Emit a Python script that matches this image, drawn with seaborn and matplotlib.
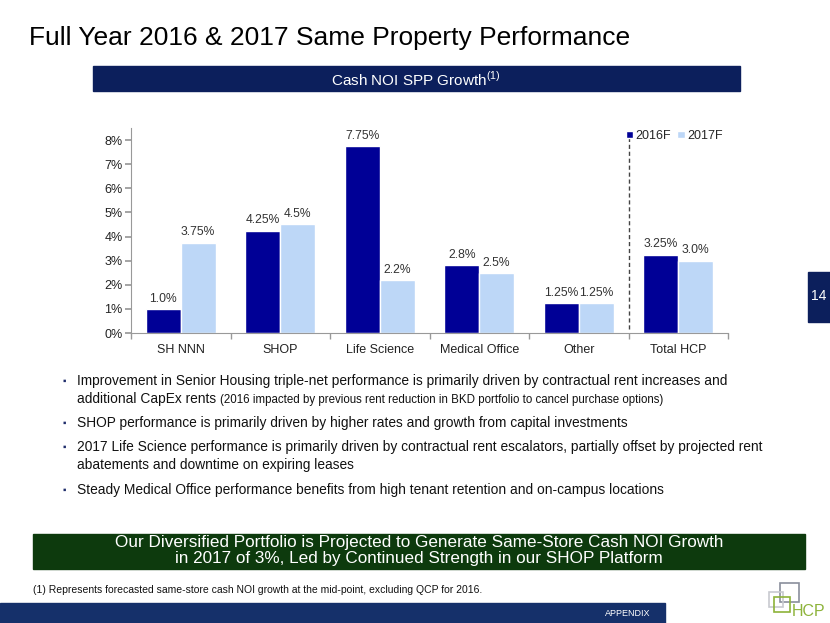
import pandas as pd
import matplotlib
matplotlib.use("Agg")
import matplotlib.pyplot as plt
import seaborn as sns
from matplotlib.patches import Rectangle

# Chart data
categories = ["SH NNN", "SHOP", "Life Science", "Medical Office", "Other", "Total HCP"]
years = ["2016F", "2017F"]
growth_2016 = [1.0, 4.25, 7.75, 2.8, 1.25, 3.25]
growth_2017 = [3.75, 4.5, 2.2, 2.5, 1.25, 3.0]
labels_2016 = ["1.0%", "4.25%", "7.75%", "2.8%", "1.25%", "3.25%"]
labels_2017 = ["3.75%", "4.5%", "2.2%", "2.5%", "1.25%", "3.0%"]
y_ticks = [0, 1, 2, 3, 4, 5, 6, 7, 8]

bullets = [
    "Improvement in Senior Housing triple-net performance is primarily driven by contractual rent increases and",
    "SHOP performance is primarily driven by higher rates and growth from capital investments",
    "2017 Life Science performance is primarily driven by contractual rent escalators, partially offset by projected rent",
    "Steady Medical Office performance benefits from high tenant retention and on-campus locations",
]

df = pd.DataFrame({
    "Segment": categories * 2,
    "Year": [years[0]] * len(categories) + [years[1]] * len(categories),
    "Growth": growth_2016 + growth_2017,
})

sns.set_theme(style="white")
plt.rcParams["font.family"] = ["Liberation Sans", "DejaVu Sans"]

W, H = 830, 623
fig = plt.figure(figsize=(8.3, 6.23), dpi=100)


def fx(x):
    return x / W


def fy(y):
    return 1 - y / H


def box(x0, y0, x1, y1, color, **kw):
    fig.add_artist(Rectangle((fx(x0), fy(y1)), (x1 - x0) / W, (y1 - y0) / H,
                             transform=fig.transFigure, color=color, **kw))


navy = "#0c1f5c"
dark = "#000096"
light = "#bdd7f7"

# Title and header bar
fig.text(fx(29), fy(38), "Full Year 2016 & 2017 Same Property Performance",
         fontsize=19, color="black", va="center", ha="left")
box(93, 66, 740, 91, navy)
fig.text(fx(416), fy(79), r"Cash NOI SPP Growth$^{\mathregular{(1)}}$", fontsize=11,
         color="white", ha="center", va="center")

# Bar chart
ax = fig.add_axes([fx(131), fy(333), (728 - 131) / W, (333 - 128) / H])
sns.barplot(data=df, x="Segment", y="Growth", hue="Year", hue_order=years,
            palette=[dark, light], width=0.7, saturation=1, ax=ax)
ax.set_ylim(0, 8.5)
ax.set_xlim(-0.5, len(categories) - 0.5)
ax.set_yticks(y_ticks)
ax.set_yticklabels([f"{t}%" for t in y_ticks], fontsize=9, color="#222222")
ax.set_xticks(range(len(categories)))
ax.set_xticklabels(categories, fontsize=9, color="#222222")
ax.set_xticks([i - 0.5 for i in range(len(categories) + 1)], minor=True)
ax.tick_params(axis="x", which="major", length=0, pad=8)
ax.tick_params(axis="x", which="minor", length=4, color="#999999", direction="out", bottom=True)
ax.tick_params(axis="y", length=4, color="#999999", direction="out", left=True, pad=2)
ax.set_xlabel("")
ax.set_ylabel("")
for side in ["top", "right"]:
    ax.spines[side].set_visible(False)
for side in ["left", "bottom"]:
    ax.spines[side].set_color("#999999")
    ax.spines[side].set_linewidth(0.8)

ax.bar_label(ax.containers[0], labels=labels_2016, padding=3, fontsize=8.7, color="#333333")
ax.bar_label(ax.containers[1], labels=labels_2017, padding=3, fontsize=8.7, color="#333333")
ax.vlines(4.5, 0.15, 8.3, colors="#444444", linestyles=(0, (3, 2)), linewidth=1)

handles, _ = ax.get_legend_handles_labels()
ax.legend(handles, years, loc="upper right", bbox_to_anchor=(1.0, 1.015), ncol=2,
          frameon=False, fontsize=9, handlelength=0.6, handleheight=0.6,
          handletextpad=0.2, columnspacing=0.5, borderaxespad=0)

# Bullets
bullet_rows = [381, 423, 447, 490]
for text, y in zip(bullets, bullet_rows):
    fig.text(fx(62), fy(y), "\u25aa", fontsize=7, color="#1f2d6b", va="center")
    fig.text(fx(77), fy(y), text, fontsize=9.9, color="#111111", va="center")
first = fig.text(fx(77), fy(399), "additional CapEx rents", fontsize=9.9, color="#111111", va="center")
fig.text(fx(77), fy(465), "abatements and downtime on expiring leases", fontsize=9.9,
         color="#111111", va="center")

fig.canvas.draw()
end_x = first.get_window_extent(fig.canvas.get_renderer()).x1
fig.text(end_x / W + fx(4), fy(400),
         "(2016 impacted by previous rent reduction in BKD portfolio to cancel purchase options)",
         fontsize=8.3, color="#111111", va="center")

# Green conclusion box
box(33, 534, 805, 569, "#0d3a0d")
fig.text(fx(419), fy(543), "Our Diversified Portfolio is Projected to Generate Same-Store Cash NOI Growth",
         fontsize=12.3, color="white", ha="center", va="center")
fig.text(fx(419), fy(559), "in 2017 of 3%, Led by Continued Strength in our SHOP Platform",
         fontsize=12.3, color="white", ha="center", va="center")

# Footnote and footer
fig.text(fx(33), fy(590), "(1) Represents forecasted same-store cash NOI growth at the mid-point, excluding QCP for 2016.",
         fontsize=7.45, color="#111111", va="center")
box(0, 603, 665, 623, "#15306a")
fig.text(fx(650), fy(613), "APPENDIX", fontsize=6.5, color="white", ha="right", va="center")

# Page number tab
box(808, 272, 830, 322, navy)
fig.text(fx(819), fy(296), "14", fontsize=10, color="white", ha="center", va="center")

# Logo
box(780, 583, 799, 602, "#8a8f9c", fill=False, linewidth=1.2)
box(769, 592, 783, 607, "#c8cad0", fill=False, linewidth=1.2)
box(774, 597, 790, 612, "#8db33a", fill=False, linewidth=1.2)
fig.text(fx(792), fy(611), "HCP", fontsize=11.5, color="#8db33a", va="center")

fig.savefig("out.png", dpi=100)
